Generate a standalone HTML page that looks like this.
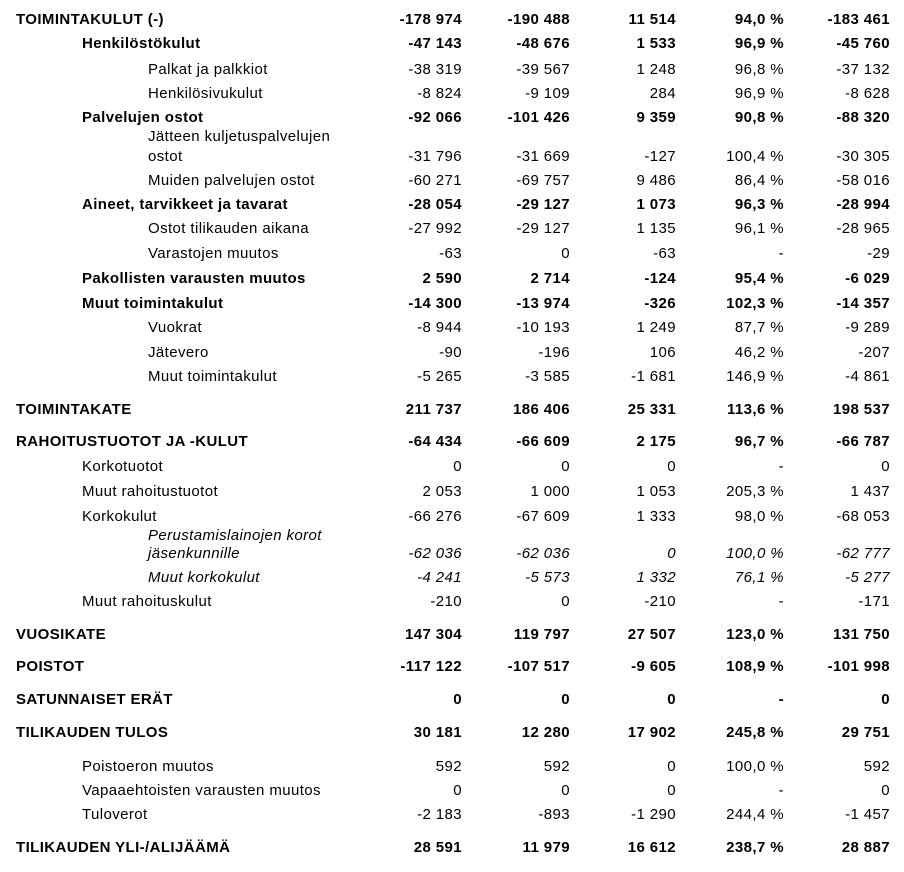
<!DOCTYPE html>
<html><head><meta charset="utf-8"><style>
body{margin:0;width:904px;height:872px;background:#fff;font-family:"Liberation Sans",Arial,sans-serif;font-size:15px;letter-spacing:0.4px;color:#000;position:relative;overflow:hidden}
.r{position:absolute;left:0;width:904px;height:18px;line-height:18px;margin-top:1px}
.r span{position:absolute;white-space:nowrap}
.l0{left:16px}.l1{left:82px}.l2{left:148px}
.v{width:120px;text-align:right;margin-right:-0.4px}
.c1{left:342px}.c2{left:450px}.c3{left:556px}.c4{left:664px}.c5{left:770px}
.b{font-weight:bold}.i{font-style:italic}
</style></head><body>
<div class="r b" style="top:10px"><span class="l0">TOIMINTAKULUT (-)</span><span class="v c1">-178 974</span><span class="v c2">-190 488</span><span class="v c3">11 514</span><span class="v c4">94,0 %</span><span class="v c5">-183 461</span></div>
<div class="r b" style="top:34px"><span class="l1">Henkilöstökulut</span><span class="v c1">-47 143</span><span class="v c2">-48 676</span><span class="v c3">1 533</span><span class="v c4">96,9 %</span><span class="v c5">-45 760</span></div>
<div class="r" style="top:60px"><span class="l2">Palkat ja palkkiot</span><span class="v c1">-38 319</span><span class="v c2">-39 567</span><span class="v c3">1 248</span><span class="v c4">96,8 %</span><span class="v c5">-37 132</span></div>
<div class="r" style="top:84px"><span class="l2">Henkilösivukulut</span><span class="v c1">-8 824</span><span class="v c2">-9 109</span><span class="v c3">284</span><span class="v c4">96,9 %</span><span class="v c5">-8 628</span></div>
<div class="r b" style="top:108px"><span class="l1">Palvelujen ostot</span><span class="v c1">-92 066</span><span class="v c2">-101 426</span><span class="v c3">9 359</span><span class="v c4">90,8 %</span><span class="v c5">-88 320</span></div>
<div class="r" style="top:127px"><span class="l2">Jätteen kuljetuspalvelujen</span></div>
<div class="r" style="top:147px"><span class="l2">ostot</span><span class="v c1">-31 796</span><span class="v c2">-31 669</span><span class="v c3">-127</span><span class="v c4">100,4 %</span><span class="v c5">-30 305</span></div>
<div class="r" style="top:171px"><span class="l2">Muiden palvelujen ostot</span><span class="v c1">-60 271</span><span class="v c2">-69 757</span><span class="v c3">9 486</span><span class="v c4">86,4 %</span><span class="v c5">-58 016</span></div>
<div class="r b" style="top:195px"><span class="l1">Aineet, tarvikkeet ja tavarat</span><span class="v c1">-28 054</span><span class="v c2">-29 127</span><span class="v c3">1 073</span><span class="v c4">96,3 %</span><span class="v c5">-28 994</span></div>
<div class="r" style="top:219px"><span class="l2">Ostot tilikauden aikana</span><span class="v c1">-27 992</span><span class="v c2">-29 127</span><span class="v c3">1 135</span><span class="v c4">96,1 %</span><span class="v c5">-28 965</span></div>
<div class="r" style="top:244px"><span class="l2">Varastojen muutos</span><span class="v c1">-63</span><span class="v c2">0</span><span class="v c3">-63</span><span class="v c4">-</span><span class="v c5">-29</span></div>
<div class="r b" style="top:269px"><span class="l1">Pakollisten varausten muutos</span><span class="v c1">2 590</span><span class="v c2">2 714</span><span class="v c3">-124</span><span class="v c4">95,4 %</span><span class="v c5">-6 029</span></div>
<div class="r b" style="top:294px"><span class="l1">Muut toimintakulut</span><span class="v c1">-14 300</span><span class="v c2">-13 974</span><span class="v c3">-326</span><span class="v c4">102,3 %</span><span class="v c5">-14 357</span></div>
<div class="r" style="top:318px"><span class="l2">Vuokrat</span><span class="v c1">-8 944</span><span class="v c2">-10 193</span><span class="v c3">1 249</span><span class="v c4">87,7 %</span><span class="v c5">-9 289</span></div>
<div class="r" style="top:343px"><span class="l2">Jätevero</span><span class="v c1">-90</span><span class="v c2">-196</span><span class="v c3">106</span><span class="v c4">46,2 %</span><span class="v c5">-207</span></div>
<div class="r" style="top:367px"><span class="l2">Muut toimintakulut</span><span class="v c1">-5 265</span><span class="v c2">-3 585</span><span class="v c3">-1 681</span><span class="v c4">146,9 %</span><span class="v c5">-4 861</span></div>
<div class="r b" style="top:400px"><span class="l0">TOIMINTAKATE</span><span class="v c1">211 737</span><span class="v c2">186 406</span><span class="v c3">25 331</span><span class="v c4">113,6 %</span><span class="v c5">198 537</span></div>
<div class="r b" style="top:432px"><span class="l0">RAHOITUSTUOTOT JA -KULUT</span><span class="v c1">-64 434</span><span class="v c2">-66 609</span><span class="v c3">2 175</span><span class="v c4">96,7 %</span><span class="v c5">-66 787</span></div>
<div class="r" style="top:457px"><span class="l1">Korkotuotot</span><span class="v c1">0</span><span class="v c2">0</span><span class="v c3">0</span><span class="v c4">-</span><span class="v c5">0</span></div>
<div class="r" style="top:482px"><span class="l1">Muut rahoitustuotot</span><span class="v c1">2 053</span><span class="v c2">1 000</span><span class="v c3">1 053</span><span class="v c4">205,3 %</span><span class="v c5">1 437</span></div>
<div class="r" style="top:507px"><span class="l1">Korkokulut</span><span class="v c1">-66 276</span><span class="v c2">-67 609</span><span class="v c3">1 333</span><span class="v c4">98,0 %</span><span class="v c5">-68 053</span></div>
<div class="r i" style="top:526px"><span class="l2">Perustamislainojen korot</span></div>
<div class="r i" style="top:544px"><span class="l2">jäsenkunnille</span><span class="v c1">-62 036</span><span class="v c2">-62 036</span><span class="v c3">0</span><span class="v c4">100,0 %</span><span class="v c5">-62 777</span></div>
<div class="r i" style="top:568px"><span class="l2">Muut korkokulut</span><span class="v c1">-4 241</span><span class="v c2">-5 573</span><span class="v c3">1 332</span><span class="v c4">76,1 %</span><span class="v c5">-5 277</span></div>
<div class="r" style="top:592px"><span class="l1">Muut rahoituskulut</span><span class="v c1">-210</span><span class="v c2">0</span><span class="v c3">-210</span><span class="v c4">-</span><span class="v c5">-171</span></div>
<div class="r b" style="top:625px"><span class="l0">VUOSIKATE</span><span class="v c1">147 304</span><span class="v c2">119 797</span><span class="v c3">27 507</span><span class="v c4">123,0 %</span><span class="v c5">131 750</span></div>
<div class="r b" style="top:657px"><span class="l0">POISTOT</span><span class="v c1">-117 122</span><span class="v c2">-107 517</span><span class="v c3">-9 605</span><span class="v c4">108,9 %</span><span class="v c5">-101 998</span></div>
<div class="r b" style="top:690px"><span class="l0">SATUNNAISET ERÄT</span><span class="v c1">0</span><span class="v c2">0</span><span class="v c3">0</span><span class="v c4">-</span><span class="v c5">0</span></div>
<div class="r b" style="top:723px"><span class="l0">TILIKAUDEN TULOS</span><span class="v c1">30 181</span><span class="v c2">12 280</span><span class="v c3">17 902</span><span class="v c4">245,8 %</span><span class="v c5">29 751</span></div>
<div class="r" style="top:757px"><span class="l1">Poistoeron muutos</span><span class="v c1">592</span><span class="v c2">592</span><span class="v c3">0</span><span class="v c4">100,0 %</span><span class="v c5">592</span></div>
<div class="r" style="top:781px"><span class="l1">Vapaaehtoisten varausten muutos</span><span class="v c1">0</span><span class="v c2">0</span><span class="v c3">0</span><span class="v c4">-</span><span class="v c5">0</span></div>
<div class="r" style="top:805px"><span class="l1">Tuloverot</span><span class="v c1">-2 183</span><span class="v c2">-893</span><span class="v c3">-1 290</span><span class="v c4">244,4 %</span><span class="v c5">-1 457</span></div>
<div class="r b" style="top:838px"><span class="l0">TILIKAUDEN YLI-/ALIJÄÄMÄ</span><span class="v c1">28 591</span><span class="v c2">11 979</span><span class="v c3">16 612</span><span class="v c4">238,7 %</span><span class="v c5">28 887</span></div>
</body></html>
